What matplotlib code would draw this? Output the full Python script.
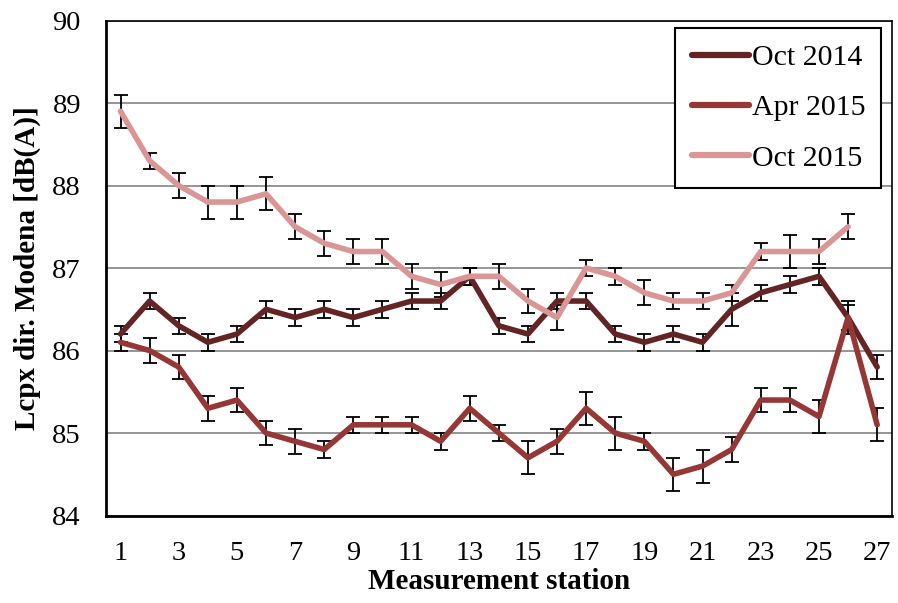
import numpy as np
import matplotlib.pyplot as plt
from matplotlib.lines import Line2D

plt.rcParams['font.family'] = ['Liberation Serif', 'DejaVu Serif']

# estaciones de medida
estaciones = np.arange(1, 28)

oct_2014 = [86.2, 86.6, 86.3, 86.1, 86.2, 86.5, 86.4, 86.5, 86.4, 86.5,
            86.6, 86.6, 86.9, 86.3, 86.2, 86.6, 86.6, 86.2, 86.1, 86.2,
            86.1, 86.5, 86.7, 86.8, 86.9, 86.4, 85.8]
err_oct_2014 = [0.1, 0.1, 0.1, 0.1, 0.1, 0.1, 0.1, 0.1, 0.1, 0.1,
                0.1, 0.1, 0.1, 0.1, 0.1, 0.1, 0.1, 0.1, 0.1, 0.1,
                0.1, 0.2, 0.1, 0.1, 0.1, 0.2, 0.15]

apr_2015 = [86.1, 86.0, 85.8, 85.3, 85.4, 85.0, 84.9, 84.8, 85.1, 85.1,
            85.1, 84.9, 85.3, 85.0, 84.7, 84.9, 85.3, 85.0, 84.9, 84.5,
            84.6, 84.8, 85.4, 85.4, 85.2, 86.4, 85.1]
err_apr_2015 = [0.1, 0.15, 0.15, 0.15, 0.15, 0.15, 0.15, 0.1, 0.1, 0.1,
                0.1, 0.1, 0.15, 0.1, 0.2, 0.15, 0.2, 0.2, 0.1, 0.2,
                0.2, 0.15, 0.15, 0.15, 0.2, 0.15, 0.2]

oct_2015 = [88.9, 88.3, 88.0, 87.8, 87.8, 87.9, 87.5, 87.3, 87.2, 87.2,
            86.9, 86.8, 86.9, 86.9, 86.6, 86.4, 87.0, 86.9, 86.7, 86.6,
            86.6, 86.7, 87.2, 87.2, 87.2, 87.5]
err_oct_2015 = [0.2, 0.1, 0.15, 0.2, 0.2, 0.2, 0.15, 0.15, 0.15, 0.15,
                0.15, 0.15, 0.1, 0.15, 0.15, 0.15, 0.1, 0.1, 0.15, 0.1,
                0.1, 0.1, 0.1, 0.2, 0.15, 0.15]

series = [("Oct 2014", oct_2014, err_oct_2014, "#632523"),
          ("Apr 2015", apr_2015, err_apr_2015, "#953735"),
          ("Oct 2015", oct_2015, err_oct_2015, "#d99694")]

fig = plt.figure(figsize=(8.98, 6.03), dpi=100)
ax = fig.add_axes([0.118, 0.145, 0.875, 0.821])

for nombre, valores, errores, color in series:
    x = estaciones[:len(valores)]
    ax.errorbar(x, valores, yerr=errores, color=color, linewidth=4.0,
                ecolor="black", elinewidth=1.3, capsize=5, capthick=1.3,
                label=nombre, solid_capstyle="round")

ax.set_xlim(0.5, 27.5)
ax.set_ylim(84, 90)
ax.set_xticks(np.arange(1, 28, 2))
ax.set_yticks(np.arange(84, 91, 1))
ax.tick_params(axis="both", length=0, labelsize=20.5, pad=18)
ax.yaxis.grid(True, color="#8c8c8c", linewidth=1.3)
ax.set_axisbelow(True)

for lado in ["left", "bottom"]:
    ax.spines[lado].set_linewidth(2)
for lado in ["top", "right"]:
    ax.spines[lado].set_linewidth(1.2)

ax.set_xlabel("Measurement station", fontsize=21, fontweight="bold", labelpad=2)
ax.set_ylabel("Lcpx dir. Modena [dB(A)]", fontsize=21, fontweight="bold", labelpad=8)

handles = [Line2D([], [], color=c, linewidth=4.5, solid_capstyle="round") for _, _, _, c in series]
leg = ax.legend(handles, [s[0] for s in series], loc="upper right",
                bbox_to_anchor=(0.987, 0.985), borderaxespad=0, fontsize=21.5,
                handlelength=1.9, handletextpad=0.1, labelspacing=0.78,
                borderpad=0.55, fancybox=False, edgecolor="black", framealpha=1)
leg.get_frame().set_linewidth(1.5)

fig.savefig("out.png", dpi=100)
